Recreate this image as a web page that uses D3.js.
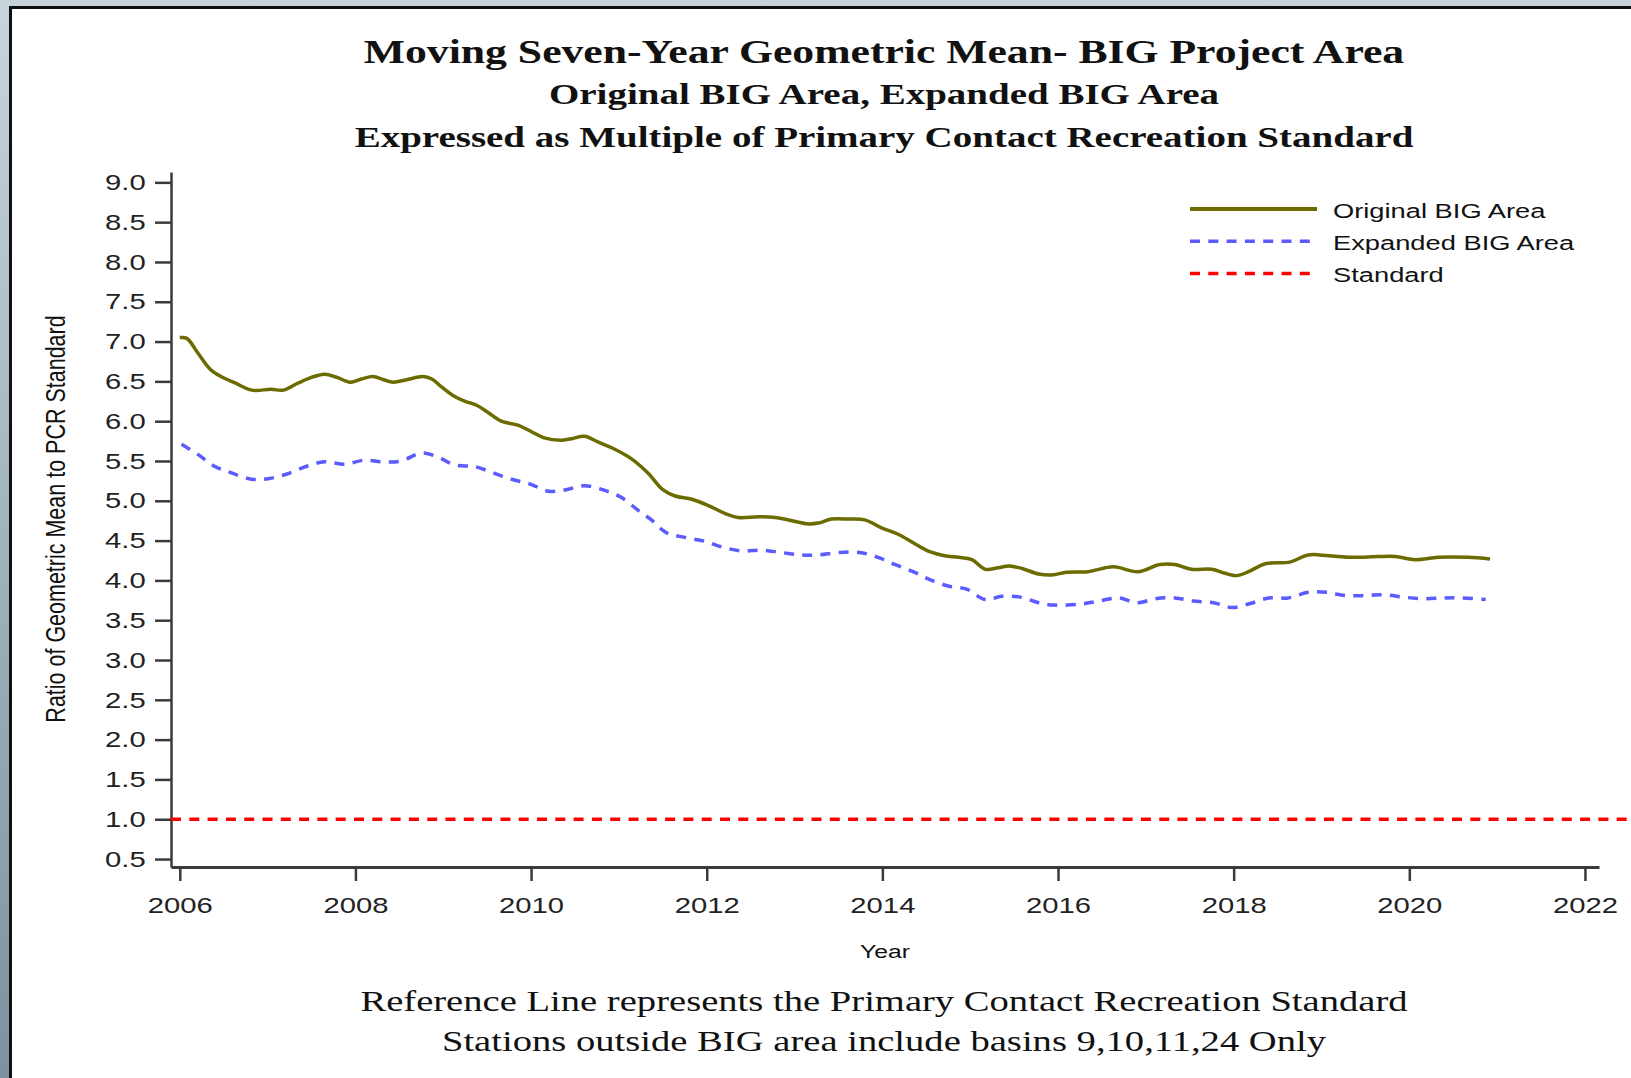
<!DOCTYPE html>
<html>
<head>
<meta charset="utf-8">
<script src="https://d3js.org/d3.v7.min.js"></script>
<style>
  body { margin: 0; overflow: hidden; }
</style>
</head>
<body>
<script>
// values
let origYears = [2006.00, 2006.08, 2006.21, 2006.34, 2006.47, 2006.63, 2006.82, 2007.04, 2007.18, 2007.35,
  2007.50, 2007.65, 2007.79, 2007.94, 2008.07, 2008.20, 2008.32, 2008.43, 2008.58, 2008.77,
  2008.87, 2008.98, 2009.13, 2009.25, 2009.38, 2009.51, 2009.66, 2009.85, 2010.00, 2010.15,
  2010.34, 2010.46, 2010.61, 2010.76, 2010.93, 2011.14, 2011.33, 2011.50, 2011.64, 2011.83,
  2012.02, 2012.21, 2012.36, 2012.59, 2012.78, 2012.97, 2013.16, 2013.27, 2013.42, 2013.61,
  2013.80, 2013.99, 2014.18, 2014.37, 2014.54, 2014.71, 2014.87, 2015.02, 2015.17, 2015.32,
  2015.44, 2015.59, 2015.78, 2015.95, 2016.08, 2016.34, 2016.63, 2016.91, 2017.16, 2017.33,
  2017.52, 2017.75, 2017.90, 2018.03, 2018.17, 2018.36, 2018.64, 2018.85, 2019.08, 2019.34,
  2019.65, 2019.84, 2020.07, 2020.33, 2020.67, 2020.92];
let origValues = [7.05, 7.04, 6.85, 6.66, 6.56, 6.48, 6.39, 6.40, 6.39, 6.48,
  6.55, 6.59, 6.55, 6.49, 6.53, 6.56, 6.52, 6.49, 6.52, 6.56,
  6.53, 6.43, 6.31, 6.25, 6.20, 6.11, 6.00, 5.95, 5.87, 5.79,
  5.76, 5.78, 5.81, 5.74, 5.66, 5.53, 5.35, 5.14, 5.06, 5.02,
  4.94, 4.84, 4.79, 4.80, 4.79, 4.75, 4.71, 4.72, 4.77, 4.77,
  4.76, 4.66, 4.58, 4.46, 4.36, 4.31, 4.29, 4.26, 4.14, 4.16,
  4.18, 4.15, 4.08, 4.07, 4.10, 4.11, 4.17, 4.11, 4.20, 4.20,
  4.14, 4.14, 4.09, 4.06, 4.11, 4.21, 4.23, 4.32, 4.31, 4.29,
  4.30, 4.30, 4.26, 4.29, 4.29, 4.27];

let expYears = [2006.02, 2006.21, 2006.40, 2006.59, 2006.82, 2007.02, 2007.23, 2007.46, 2007.65, 2007.88,
  2008.10, 2008.31, 2008.52, 2008.75, 2008.94, 2009.13, 2009.36, 2009.57, 2009.78, 2009.99,
  2010.20, 2010.40, 2010.61, 2010.84, 2011.03, 2011.22, 2011.37, 2011.54, 2011.75, 2011.98,
  2012.17, 2012.40, 2012.62, 2012.85, 2013.08, 2013.27, 2013.50, 2013.74, 2013.95, 2014.14,
  2014.35, 2014.54, 2014.75, 2014.96, 2015.17, 2015.36, 2015.57, 2015.78, 2015.95, 2016.24,
  2016.46, 2016.69, 2016.90, 2017.11, 2017.33, 2017.54, 2017.77, 2017.98, 2018.19, 2018.40,
  2018.62, 2018.85, 2019.06, 2019.27, 2019.50, 2019.72, 2019.93, 2020.16, 2020.39, 2020.60,
  2020.87];
let expValues = [5.71, 5.58, 5.43, 5.35, 5.27, 5.28, 5.34, 5.44, 5.49, 5.46,
  5.51, 5.49, 5.50, 5.60, 5.55, 5.45, 5.43, 5.35, 5.27, 5.21,
  5.12, 5.14, 5.19, 5.13, 5.04, 4.88, 4.76, 4.60, 4.54, 4.49,
  4.42, 4.37, 4.38, 4.35, 4.32, 4.32, 4.35, 4.35, 4.29, 4.20,
  4.11, 4.01, 3.93, 3.89, 3.76, 3.80, 3.79, 3.72, 3.69, 3.70,
  3.74, 3.78, 3.72, 3.77, 3.78, 3.74, 3.72, 3.66, 3.71, 3.78,
  3.78, 3.85, 3.85, 3.81, 3.81, 3.82, 3.79, 3.77, 3.78, 3.78,
  3.76];

let standardValue = 1.0;

let yTicks = [0.5, 1.0, 1.5, 2.0, 2.5, 3.0, 3.5, 4.0, 4.5, 5.0, 5.5, 6.0, 6.5, 7.0, 7.5, 8.0, 8.5, 9.0];
let xTicks = [2006, 2008, 2010, 2012, 2014, 2016, 2018, 2020, 2022];

let titles = ["Moving Seven-Year Geometric Mean- BIG Project Area",
  "Original BIG Area, Expanded BIG Area",
  "Expressed as Multiple of Primary Contact Recreation Standard"];
let footnotes = ["Reference Line represents the Primary Contact Recreation Standard",
  "Stations outside BIG area include basins 9,10,11,24 Only"];
let legendNames = ["Original BIG Area", "Expanded BIG Area", "Standard"];

// the source picture is stretched sideways, so all text gets this
let sx = 1.3;

let width = 1631,
    height = 1078;

let colOrig = "#6b6b00",
    colExp = "#5b5bff",
    colStd = "#ff0000";

let svg = d3.select("body").append("svg")
    .attr("width", width)
    .attr("height", height);

let grad = svg.append("defs").append("linearGradient")
    .attr("id", "bg")
    .attr("x1", 0).attr("y1", 0).attr("x2", 0).attr("y2", 1);
grad.append("stop").attr("offset", "0%").attr("stop-color", "#c7d4db");
grad.append("stop").attr("offset", "100%").attr("stop-color", "#7b939f");

svg.append("rect")
    .attr("width", width)
    .attr("height", height)
    .attr("fill", "url(#bg)");

// white panel with the black frame
svg.append("rect")
    .attr("x", 10.5)
    .attr("y", 7.5)
    .attr("width", width + 20)
    .attr("height", height + 20)
    .attr("fill", "white")
    .attr("stroke", "#111")
    .attr("stroke-width", 3);

let x = d3.scaleLinear()
    .domain([2005.9, 2022.16])
    .range([171, 1599]);

let y = d3.scaleLinear()
    .domain([0.4, 9.13])
    .range([867, 172]);

// titles
let titleSizes = [33.6, 30, 30];
let titleBase = [63, 104, 147];
titles.forEach(function (t, i) {
    svg.append("text")
        .text(t)
        .attr("transform", "translate(884," + titleBase[i] + ") scale(" + sx + ",1)")
        .attr("text-anchor", "middle")
        .attr("font-family", "Liberation Serif, Times New Roman, serif")
        .attr("font-weight", "bold")
        .attr("font-size", titleSizes[i] + "px")
        .attr("fill", "#111");
});

// footnotes
let footBase = [1011, 1051];
footnotes.forEach(function (t, i) {
    svg.append("text")
        .text(t)
        .attr("transform", "translate(884," + footBase[i] + ") scale(" + sx + ",1)")
        .attr("text-anchor", "middle")
        .attr("font-family", "Liberation Serif, Times New Roman, serif")
        .attr("font-size", "29.7px")
        .attr("fill", "#111");
});

// y axis
let yAxis = svg.append("g")
    .attr("transform", "translate(171,0)")
    .call(d3.axisLeft(y)
        .tickValues(yTicks)
        .tickFormat(d3.format(".1f"))
        .tickSize(16)
        .tickSizeOuter(0));
yAxis.select(".domain").attr("stroke", "#3a3a3a").attr("stroke-width", 2.5);
yAxis.selectAll(".tick line").attr("stroke", "#3a3a3a").attr("stroke-width", 2.5);
yAxis.selectAll(".tick text")
    .attr("x", -19.5)
    .attr("transform", "scale(" + sx + ",1)")
    .attr("font-family", "Liberation Sans, Arial, sans-serif")
    .attr("font-size", "22.5px")
    .attr("fill", "#222");

// x axis
let xAxis = svg.append("g")
    .attr("transform", "translate(0,867)")
    .call(d3.axisBottom(x)
        .tickValues(xTicks)
        .tickFormat(d3.format("d"))
        .tickSize(14)
        .tickSizeOuter(0));
xAxis.select(".domain").attr("stroke", "#3a3a3a").attr("stroke-width", 3);
xAxis.selectAll(".tick line").attr("stroke", "#3a3a3a").attr("stroke-width", 2.5);
xAxis.selectAll(".tick text")
    .attr("y", 30)
    .attr("dy", "0.71em")
    .attr("transform", "scale(" + sx + ",1)")
    .attr("font-family", "Liberation Sans, Arial, sans-serif")
    .attr("font-size", "22.5px")
    .attr("fill", "#222");

// axis titles
svg.append("text")
    .text("Year")
    .attr("transform", "translate(885,958) scale(" + sx + ",1)")
    .attr("text-anchor", "middle")
    .attr("font-family", "Liberation Sans, Arial, sans-serif")
    .attr("font-size", "19px")
    .attr("fill", "#111");

svg.append("text")
    .text("Ratio of Geometric Mean to PCR Standard")
    .attr("transform", "translate(65,519) scale(" + sx + ",1) rotate(-90)")
    .attr("text-anchor", "middle")
    .attr("font-family", "Liberation Sans, Arial, sans-serif")
    .attr("font-size", "21.5px")
    .attr("fill", "#111");

// standard reference line
svg.append("line")
    .attr("x1", x.range()[0])
    .attr("x2", width)
    .attr("y1", y(standardValue))
    .attr("y2", y(standardValue))
    .attr("stroke", colStd)
    .attr("stroke-width", 3.5)
    .attr("stroke-dasharray", "10,8.3");

let line = d3.line()
    .x(d => x(d[0]))
    .y(d => y(d[1]))
    .curve(d3.curveCatmullRom);

svg.append("path")
    .datum(d3.zip(expYears, expValues))
    .attr("d", line)
    .attr("fill", "none")
    .attr("stroke", colExp)
    .attr("stroke-width", 3.5)
    .attr("stroke-dasharray", "10,8.3");

svg.append("path")
    .datum(d3.zip(origYears, origValues))
    .attr("d", line)
    .attr("fill", "none")
    .attr("stroke", colOrig)
    .attr("stroke-width", 3.5);

// legend
let legColors = [colOrig, colExp, colStd];
let legDash = [null, "10,8.3", "10,8.3"];
let leg = svg.selectAll(".leg")
    .data(legendNames)
    .join("g")
    .attr("class", "leg")
    .attr("transform", (d, i) => "translate(0," + (209 + i * 32.2) + ")");

leg.append("line")
    .attr("x1", 1190)
    .attr("x2", 1317)
    .attr("stroke", (d, i) => legColors[i])
    .attr("stroke-width", (d, i) => i == 0 ? 4 : 3.5)
    .attr("stroke-dasharray", (d, i) => legDash[i]);

leg.append("text")
    .text(d => d)
    .attr("transform", "translate(1333,9) scale(" + sx + ",1)")
    .attr("font-family", "Liberation Sans, Arial, sans-serif")
    .attr("font-size", "21px")
    .attr("fill", "#111");
</script>
</body>
</html>
